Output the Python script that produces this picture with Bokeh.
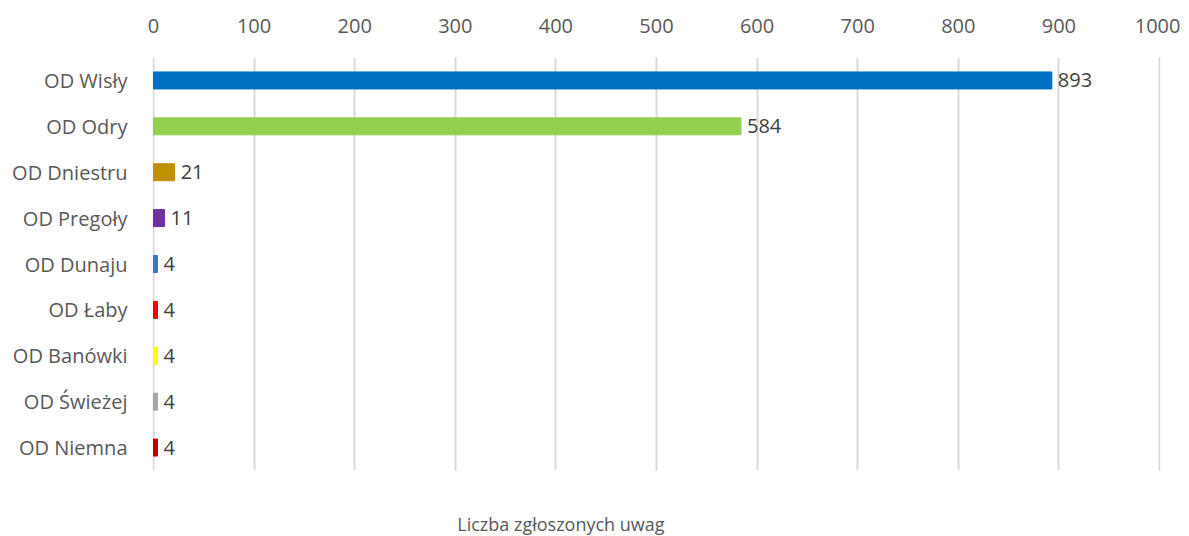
from bokeh.plotting import figure
from bokeh.layouts import column
from bokeh.models import ColumnDataSource, Range1d, FixedTicker
from bokeh.core.properties import value
from bokeh.embed import file_html
from bokeh.resources import INLINE

categories = ["OD Wisły", "OD Odry", "OD Dniestru", "OD Pregoły", "OD Dunaju",
              "OD Łaby", "OD Banówki", "OD Świeżej", "OD Niemna"]
values = [893, 584, 21, 11, 4, 4, 4, 4, 4]
colors = ["#0070C0", "#92D050", "#BF9000", "#7030A0", "#4472C4",
          "#FF0000", "#FFFF00", "#A5A5A5", "#C00000"]
tick_values = [0, 100, 200, 300, 400, 500, 600, 700, 800, 900, 1000]
axis_title = "Liczba zgłoszonych uwag"

FONT = "Open Sans"

src = ColumnDataSource(dict(cat=categories, val=values, color=colors,
                            label=[str(v) for v in values]))

p = figure(width=1180, height=478, y_range=list(reversed(categories)),
           x_range=Range1d(-1, 1001), x_axis_location="above",
           output_backend="svg", toolbar_location=None,
           min_border_left=152, min_border_right=20,
           min_border_top=57, min_border_bottom=8)

p.hbar(y="cat", left=0, right="val", height=0.37, color="color", source=src)
p.text(x="val", y="cat", text="label", source=src, x_offset=6,
       text_baseline="middle", text_align="left",
       text_font=value(FONT), text_font_size="20px", text_color="#404040")

p.xaxis.ticker = FixedTicker(ticks=tick_values)
p.xaxis.axis_line_color = None
p.xaxis.major_tick_line_color = None
p.xaxis.minor_tick_line_color = None
p.xaxis.major_label_standoff = 19
p.xaxis.major_label_text_font = FONT
p.xaxis.major_label_text_font_size = "20px"
p.xaxis.major_label_text_color = "#595959"

p.yaxis.axis_line_color = None
p.yaxis.major_tick_line_color = None
p.yaxis.minor_tick_line_color = None
p.yaxis.major_label_standoff = 19
p.yaxis.major_label_text_font = FONT
p.yaxis.major_label_text_font_size = "20px"
p.yaxis.major_label_text_color = "#595959"

p.xgrid.ticker = FixedTicker(ticks=tick_values)
p.xgrid.grid_line_color = "#D9D9D9"
p.xgrid.grid_line_width = 2
p.ygrid.grid_line_color = None
p.outline_line_color = None

# axis title strip below the chart (frame aligned with the main chart)
t = figure(width=1180, height=58, x_range=p.x_range, y_range=Range1d(0, 58),
           x_axis_type=None, y_axis_type=None, output_backend="svg",
           toolbar_location=None, min_border_left=152, min_border_right=20,
           min_border_top=0, min_border_bottom=0)
t.outline_line_color = None
t.xgrid.grid_line_color = None
t.ygrid.grid_line_color = None
t.text(x=[405], y=[13], text=[axis_title], text_align="center",
       text_baseline="middle", text_font=value(FONT), text_font_size="18px",
       text_color="#595959")

layout = column(p, t, spacing=0)
open("out.html", "w").write(file_html(layout, INLINE))
